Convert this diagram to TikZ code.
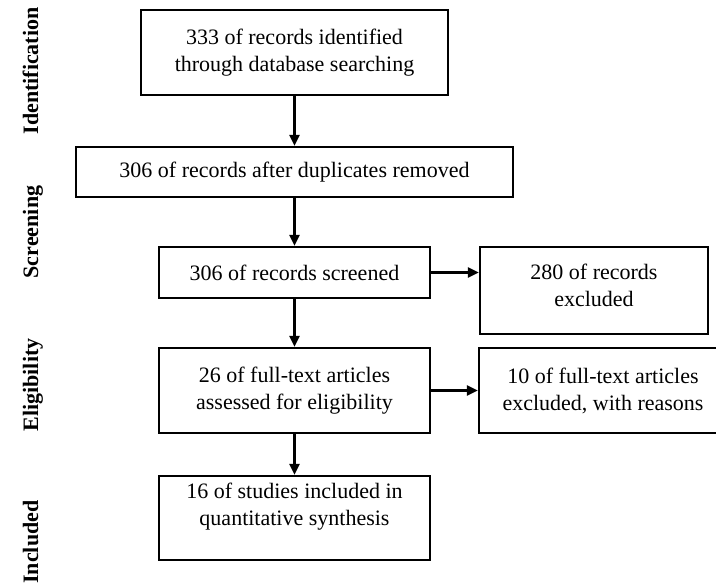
\documentclass[tikz,border=0pt]{standalone}
\usepackage{fontspec}
\setmainfont{Liberation Serif}
\usetikzlibrary{arrows.meta}
\begin{document}
\begin{tikzpicture}[x=1pt,y=-1pt,
  box/.style={draw, line width=2.2pt, align=center, inner sep=0pt, font=\fontsize{22}{27}\selectfont},
  txt/.style={align=center, inner sep=0pt, font=\fontsize{22}{27}\selectfont},
  arr/.style={line width=2.2pt, -{Triangle[length=11pt,width=10pt]}},
  stage/.style={rotate=90, anchor=base, inner sep=0pt, font=\fontsize{22}{26}\selectfont\bfseries}]
\useasboundingbox (0,0) rectangle (716,586);
% stage labels
\node[stage] (s1) at (38,71) {Identification};
\node[stage] (s2) at (38,232) {Screening};
\node[stage] (s3) at (38,385) {Eligibility};
\node[stage] (s4) at (38,542) {Included};
% boxes
\node[box, minimum width=307pt, minimum height=85pt] (b1) at (294.5,52.5) {333 of records identified\\through database searching};
\node[box, minimum width=437pt, minimum height=50pt] (b2) at (294.5,172) {306 of records after duplicates removed};
\node[box, minimum width=271pt, minimum height=51pt] (b3) at (294.5,272.5) {306 of records screened};
\node[box, minimum width=228pt, minimum height=87pt,
  label={[txt, yshift=5pt]center:{280 of records\\excluded}}] (b4) at (594,290.5) {};
\node[box, minimum width=271pt, minimum height=85pt] (b6) at (294.5,390.5) {26 of full-text articles\\assessed for eligibility};
\node[box, minimum width=248pt, minimum height=85pt] (b5) at (603,390.5) {10 of full-text articles\\excluded, with reasons};
\node[box, minimum width=271pt, minimum height=84pt,
  label={[txt, yshift=11pt]center:{16 of studies included in\\quantitative synthesis}}] (b7) at (294.5,518) {};
% connectors
\draw[arr] (b1) -- (b2);
\draw[arr] (b2) -- (b3);
\draw[arr] (b3) -- (b6);
\draw[arr] (b6) -- (b7);
\draw[arr] (b3.east) -- (b3.east -| b4.west);
\draw[arr] (b6.east) -- (b5.west);
\end{tikzpicture}
\end{document}
